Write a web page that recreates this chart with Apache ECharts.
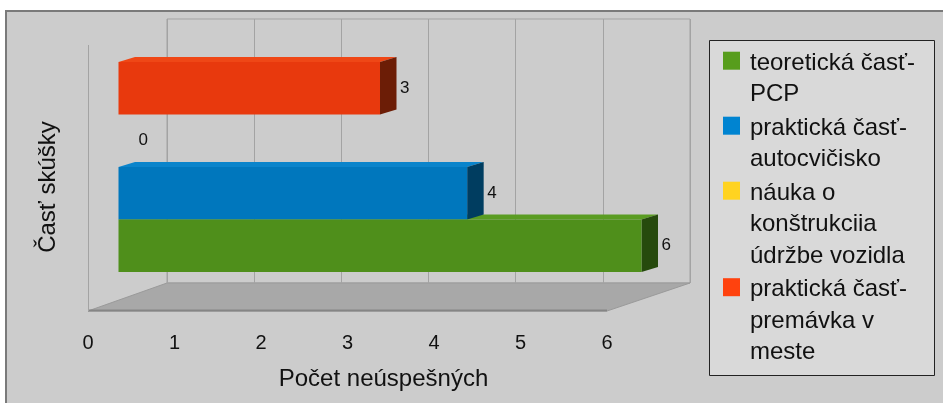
<!DOCTYPE html>
<html>
<head>
<meta charset="utf-8">
<script src="https://cdn.jsdelivr.net/npm/echarts@6/dist/echarts.min.js"></script>
<style>
  html, body { margin: 0; padding: 0; background: #fff; }
  #main { width: 943px; height: 403px; }
</style>
</head>
<body>
<div id="main"></div>
<script>
// data
var categories = [''];
var seriesNames = [
    'teoretická časť-\nPCP',
    'praktická časť-\nautocvičisko',
    'náuka o\nkonštrukciia\núdržbe vozidla',
    'praktická časť-\npremávka v\nmeste'
];
var seriesValues = [6, 4, 0, 3];
var tickLabels = ['0', '1', '2', '3', '4', '5', '6'];

// colours (legend = base, front/top/side = lit faces)
var baseColors = ['#579d1c', '#0084d1', '#ffd320', '#ff420e'];
var frontColors = ['#4f8f1b', '#0077bd', '#e6be1c', '#e8390d'];
var topColors = ['#5a9c22', '#0a84cb', '#f0c820', '#ef4716'];
var sideColors = ['#264a0d', '#003d60', '#6e5c08', '#6c1d06'];

var FONT = 'Liberation Sans';
var DX = 16.5, DY = -5;

var myChart = echarts.init(document.getElementById('main'));

// 3D depth faces of the bars (top + right side), slot 0 = bottom bar
function renderDepth(params, api) {
    var v = api.value(0);
    if (!v) return;
    var slot = api.value(2);
    var p0 = api.coord([0, 0]);
    var p1 = api.coord([v, 0]);
    var band = api.size([0, 1])[1];
    var h = band / seriesNames.length;
    var yBot = p0[1] + band / 2 - slot * h;
    var yTop = yBot - h;
    var x0 = p0[0], x1 = p1[0];
    return {
        type: 'group',
        children: [{
            type: 'polygon',
            shape: {points: [[x0, yTop], [x1, yTop], [x1 + DX, yTop + DY], [x0 + DX, yTop + DY]]},
            style: {fill: topColors[slot]}
        }, {
            type: 'polygon',
            shape: {points: [[x1, yTop], [x1 + DX, yTop + DY], [x1 + DX, yBot + DY], [x1, yBot]]},
            style: {fill: sideColors[slot]}
        }]
    };
}

// legend drawn by hand so the square sits on the first text line
var legendItems = [];
var ly = 51.7;
seriesNames.forEach(function (name, i) {
    var lines = name.split('\n').length;
    legendItems.push({
        type: 'rect', shape: {x: 723, y: ly, width: 17, height: 18},
        style: {fill: baseColors[i]}
    });
    legendItems.push({
        type: 'text', x: 750, y: ly - 4.5,
        style: {text: name, font: '24px "' + FONT + '"', lineHeight: 31.5, fill: '#111', verticalAlign: 'top'}
    });
    ly += lines * 31.5 + 2;
});

// echarts puts the first bar series at the top of the band, so add them last-to-first
var series = [];
for (var i = seriesNames.length - 1; i >= 0; i--) {
    series.push({
        name: seriesNames[i],
        type: 'bar',
        xAxisIndex: 0,
        yAxisIndex: 0,
        data: [seriesValues[i]],
        barGap: '0%',
        barCategoryGap: '0%',
        z: 3,
        itemStyle: {color: frontColors[i]},
        label: {
            show: true, position: 'right', distance: 20,
            fontFamily: FONT, fontSize: 17, color: '#111'
        }
    });
}
series.push({
    type: 'custom',
    xAxisIndex: 0,
    yAxisIndex: 0,
    z: 1,
    clip: false,
    renderItem: renderDepth,
    encode: {x: 0, y: 1},
    data: seriesValues.map(function (v, i) { return [v, 0, i]; })
});

var options = {
    backgroundColor: '#cccccc',
    animation: false,
    grid: [
        {left: 118.5, width: 523, top: 62, bottom: 131},          // bars
        {left: 88, width: 519, top: 63, bottom: 92},              // front axis (labels)
        {left: 167, width: 523, top: 19, bottom: 120, show: true, // back wall
            borderColor: '#a3a3a3', borderWidth: 1, backgroundColor: 'transparent'}
    ],
    xAxis: [{
        gridIndex: 0, type: 'value', min: 0, max: 6, interval: 1, show: false
    }, {
        gridIndex: 1, type: 'value', min: 0, max: 6, interval: 1,
        axisLine: {show: false}, axisTick: {show: false}, splitLine: {show: false},
        axisLabel: {
            margin: 22, fontFamily: FONT, fontSize: 20, color: '#111',
            formatter: function (v) { return tickLabels[v]; }
        },
        name: 'Počet neúspešných', nameLocation: 'middle', nameGap: 56,
        nameTextStyle: {fontFamily: FONT, fontSize: 24, color: '#111', padding: [0, 0, 0, 72]}
    }, {
        gridIndex: 2, type: 'value', min: 0, max: 6, interval: 1,
        axisLine: {show: false}, axisTick: {show: false}, axisLabel: {show: false},
        splitLine: {show: true, lineStyle: {color: '#a3a3a3', width: 1}}
    }],
    yAxis: [{
        gridIndex: 0, type: 'category', data: categories, show: false
    }, {
        gridIndex: 1, type: 'value', min: 0, max: 1,
        axisLine: {show: false}, axisTick: {show: false}, axisLabel: {show: false}, splitLine: {show: false},
        name: 'Časť skúšky', nameLocation: 'middle', nameGap: 28,
        nameTextStyle: {fontFamily: FONT, fontSize: 24, color: '#111'}
    }, {
        gridIndex: 2, type: 'value', show: false
    }],
    graphic: [
        {type: 'rect', shape: {x: 0, y: 0, width: 943, height: 10}, style: {fill: '#fff'}},
        {type: 'rect', shape: {x: 0, y: 0, width: 5, height: 403}, style: {fill: '#fff'}},
        {type: 'polyline', shape: {points: [[6, 403], [6, 11], [943, 11]]},
            style: {stroke: '#7a7a7a', lineWidth: 2, fill: null}},
        // floor and left wall
        {type: 'polygon', shape: {points: [[88, 311], [607, 311], [690, 283], [167, 283]]},
            style: {fill: '#a8a8a8', stroke: '#9a9a9a', lineWidth: 1}},
        {type: 'line', shape: {x1: 88, y1: 310.5, x2: 607, y2: 310.5}, style: {stroke: '#858585', lineWidth: 2}},
        {type: 'line', shape: {x1: 88.5, y1: 45, x2: 88.5, y2: 311}, style: {stroke: '#a3a3a3', lineWidth: 1}},
        // legend box
        {type: 'rect', shape: {x: 709.5, y: 40.5, width: 225, height: 335},
            style: {fill: '#d9d9d9', stroke: '#222', lineWidth: 1}}
    ].concat(legendItems),
    series: series
};
myChart.setOption(options);
</script>
</body>
</html>
